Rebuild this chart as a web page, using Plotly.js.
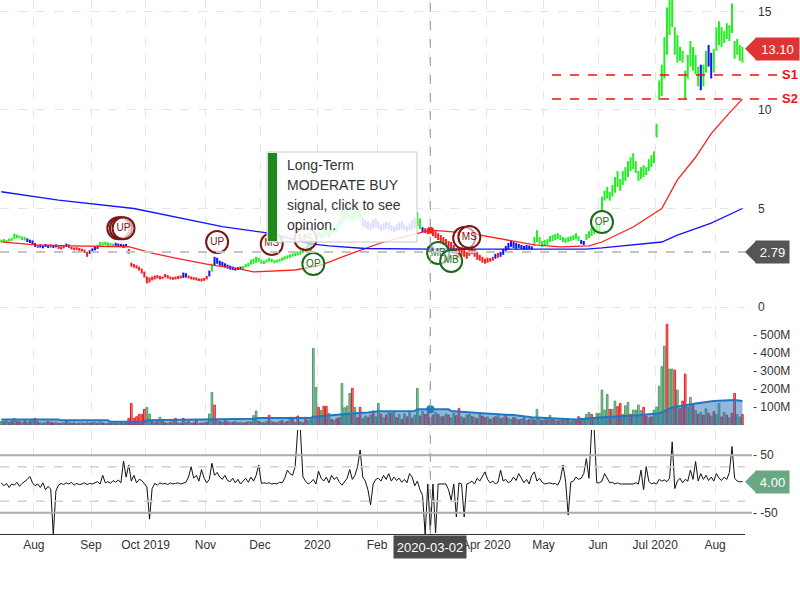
<!DOCTYPE html>
<html><head><meta charset="utf-8">
<script src="https://cdn.plot.ly/plotly-3.0.1.min.js"></script>
<style>html,body{margin:0;padding:0;background:#fff;}#chart{width:800px;height:600px;}</style>
</head><body><div id="chart"></div>
<script>
// ---------------- DATA ----------------
const startDate = '2019-07-15'; // first trading day shown (weekdays only)
const priceLow = [
3.28,3.30,3.25,3.32,3.35,3.45,3.50,3.48,3.40,3.38,
3.30,3.25,3.20,3.05,3.00,3.02,2.98,3.05,3.00,3.02,
3.00,3.03,2.95,2.92,2.98,3.05,3.00,2.92,2.88,2.90,
2.85,2.82,2.75,2.55,2.70,2.80,2.88,2.95,3.10,3.12,
3.15,3.10,3.12,3.08,3.10,3.05,3.08,3.00,3.05,2.70,
2.05,2.00,1.95,1.85,1.70,1.50,1.20,1.25,1.35,1.40,
1.45,1.40,1.42,1.50,1.45,1.40,1.38,1.40,1.42,1.45,
1.48,1.50,1.45,1.40,1.38,1.35,1.32,1.30,1.33,1.40,
1.55,1.80,2.10,2.20,2.10,2.05,2.00,1.95,1.90,1.88,
1.85,1.88,1.90,1.92,2.00,2.05,2.15,2.20,2.25,2.30,
2.20,2.18,2.25,2.30,2.28,2.22,2.25,2.30,2.35,2.40,
2.45,2.50,2.55,2.58,2.62,2.65,2.75,2.80,2.85,2.80,
3.20,3.40,3.50,3.45,3.55,3.60,3.55,3.65,3.70,3.80,
3.95,4.20,4.40,4.50,4.35,4.30,4.40,4.50,4.30,4.10,
4.00,3.95,3.90,4.00,4.05,3.95,3.85,3.90,4.00,3.95,
3.85,3.80,3.85,3.90,3.95,3.88,3.82,3.90,3.95,4.00,
4.10,3.95,3.80,3.75,3.70,3.75,3.60,3.50,3.40,3.25,
3.15,3.05,2.95,2.85,2.70,2.40,2.50,2.60,2.55,2.45,
2.60,2.70,2.55,2.40,2.35,2.25,2.20,2.25,2.30,2.35,
2.45,2.50,2.55,2.65,2.80,2.90,3.05,3.00,2.95,3.00,
2.95,2.90,2.92,2.95,2.90,3.10,3.30,3.20,3.05,3.10,
3.15,3.30,3.35,3.40,3.45,3.40,3.30,3.25,3.30,3.35,
3.40,3.45,3.35,3.20,3.15,3.40,3.50,3.60,3.70,3.80,
3.85,4.90,5.40,5.50,5.40,5.60,5.80,6.10,5.90,6.20,
6.40,6.60,6.90,7.00,6.80,6.40,6.50,6.60,6.70,6.90,
7.10,7.30,8.60,10.50,10.70,11.60,12.80,13.80,14.20,12.80,
12.40,12.50,12.40,10.50,11.60,12.20,12.00,11.80,11.20,11.00,
11.20,11.90,12.20,11.60,11.90,13.00,13.30,13.20,13.40,13.60,
13.50,13.90,12.60,12.80,12.50,12.40];
const priceHigh = [
3.42,3.45,3.40,3.48,3.50,3.72,3.68,3.62,3.58,3.55,
3.48,3.42,3.38,3.25,3.15,3.18,3.12,3.20,3.15,3.18,
3.14,3.18,3.10,3.08,3.12,3.22,3.18,3.06,3.02,3.04,
3.00,2.96,2.92,2.80,2.88,2.98,3.05,3.12,3.30,3.28,
3.32,3.28,3.25,3.22,3.26,3.22,3.20,3.18,3.20,2.95,
2.25,2.18,2.12,2.05,1.95,1.80,1.55,1.50,1.55,1.60,
1.62,1.58,1.55,1.68,1.62,1.55,1.52,1.55,1.58,1.60,
1.75,1.72,1.60,1.55,1.52,1.50,1.45,1.45,1.48,1.58,
1.85,2.20,2.55,2.50,2.35,2.30,2.22,2.15,2.10,2.05,
2.00,2.02,2.05,2.08,2.18,2.25,2.40,2.45,2.55,2.50,
2.40,2.35,2.42,2.50,2.45,2.38,2.40,2.45,2.52,2.58,
2.62,2.68,2.72,2.75,2.80,2.85,3.00,3.05,3.20,3.55,
3.60,3.75,3.85,3.80,3.95,4.05,3.90,4.00,4.10,4.25,
4.50,4.90,5.20,5.00,4.85,4.80,5.05,5.30,4.90,4.55,
4.40,4.35,4.30,4.45,4.50,4.35,4.20,4.25,4.35,4.30,
4.15,4.10,4.20,4.30,4.35,4.20,4.10,4.25,4.40,4.55,
4.80,4.50,4.05,4.00,3.98,4.05,3.92,3.85,3.75,3.65,
3.55,3.45,3.35,3.30,3.15,3.00,2.95,3.05,2.90,2.80,
2.95,3.10,2.95,2.80,2.65,2.55,2.45,2.50,2.48,2.55,
2.70,2.75,2.80,2.95,3.10,3.25,3.35,3.30,3.25,3.20,
3.15,3.10,3.15,3.12,3.08,3.55,3.90,3.55,3.35,3.40,
3.45,3.60,3.65,3.70,3.75,3.65,3.55,3.50,3.55,3.60,
3.65,3.75,3.60,3.40,3.35,3.70,3.85,4.00,4.10,4.25,
4.20,5.60,5.90,6.10,5.85,6.20,6.60,6.90,6.50,6.90,
7.10,7.40,7.60,7.80,7.40,6.90,7.10,7.20,7.10,7.50,
7.70,7.90,9.30,11.50,12.30,13.70,15.20,15.60,15.60,14.20,
13.80,13.20,13.00,12.00,12.80,13.50,13.20,12.80,12.20,12.30,
12.30,13.00,13.30,12.90,13.10,14.20,14.50,14.20,14.00,14.40,
14.30,15.40,13.50,13.60,13.30,13.20];
// g = green (up trend), b = blue (neutral), r = red (down trend)
const priceColor = ('gggggggggg bbbbrbbbbr bbrrrbrrrr rrrrbbbbgg ggggbbbbbr rrrrrrrrrr rrrrrrrrrr bbrrrrrrrr bgbbbbbbbb bbbggggggg ' +
  'gggggggggg gggggggggg gggggggggg gggggggggb bbbbbbbbbb bbbbbbbbbb ggbrrbrrrr rrrrrrrrrr rrrrrrrrrr brbbbbbbbb ' +
  'bbbbbggggg gggggggggg gggbbggggg gggggggggg gggggggggg gggggggggg gggggggggb ggbbgggggg gggggg').replace(/ /g, '');
const volumeM = [
20,18,25,15,22,37,20,18,12,22, 15,20,25,37,18,12,10,15,20,14,
12,15,10,8,12,20,15,10,12,8, 10,12,8,15,10,12,14,10,18,12,
8,10,12,15,10,8,12,10,14,37, 120,37,46,59,59,87,98,61,20,15,
18,43,31,12,10,15,20,37,12,10, 37,15,20,10,12,31,8,10,12,15,
61,181,111,25,20,15,30,18,12,15, 20,12,15,10,14,18,15,52,78,20,
15,12,20,54,18,15,12,20,25,14, 20,43,31,14,50,18,12,43,25,30,
425,209,98,81,104,104,65,30,25,35, 40,231,96,105,176,204,98,40,98,35,
50,42,55,78,45,120,60,40,55,70, 65,72,40,58,30,62,45,70,38,55,
204,50,75,58,65,40,55,70,60,45, 48,62,55,40,66,52,93,45,38,55,
60,48,42,35,58,50,40,45,30,38, 45,52,35,40,55,38,30,42,35,28,
32,40,25,30,36,28,87,30,25,35, 28,54,30,25,22,35,28,30,25,20,
30,25,46,37,30,59,70,59,40,65, 65,194,83,170,87,87,133,102,120,59,
107,126,59,83,83,111,80,98,50,40, 45,83,100,216,324,438,560,311,311,305,
194,90,133,283,100,153,117,80,60,70, 55,90,65,50,75,60,120,45,70,55,
40,65,176,58,45,59];
const volColor = ('grgrrgrrgr grgrrgrgrr rgrrgrgrrg rgrgrrgrgr grrgrgrgrr rrrrrrggrg rgrrgrgrgr rgrgrrgrgr ggrgrgrrgr grgrrgrggr ' +
  'grgrgrrgrg rgrgrgrrgg ggrgrrgrgr rggggrgrrg grgrggrgrg rgrgrgrgrg grgrrgrgrg rgrggrrgrg grgrgrrgrg rgrgrggrgr ' +
  'grgrgrggrg rgrgrgrgrg grrrgggrgg ggggrggrrg ggrggggrrg rgggggrggr grrrggrgrg rgrgrggrgr grrggr').replace(/ /g, '');
const oscillator = [
2,-3,1,-6,0,-2,3,-4,1,4, 8,13,2,-3,0,-6,2,-10,-4,-9,
-88,-12,-2,1,-1,2,0,3,-2,1, -1,0,2,-1,1,0,2,4,0,15,
2,4,1,6,3,7,2,40,12,33, 5,15,2,8,6,0,-5,-61,-8,1,
-2,2,0,1,-1,2,0,1,2,0, 1,3,12,30,10,15,5,25,10,2,
8,36,15,20,12,8,15,6,4,10, 2,8,0,5,10,3,12,5,15,33,
1,2,1,2,0,1,0,3,2,10, 24,18,15,30,95,95,12,5,0,3,
8,0,22,10,5,12,2,15,8,12, 3,-2,5,10,25,8,15,30,59,12,
5,-10,-36,0,8,10,5,15,8,18, 5,12,6,10,3,8,2,18,12,-3,
5,-10,-20,-88,0,-80,0,-85,0,0, 0,0,-10,-28,0,-57,2,0,-57,0,
2,5,0,10,5,12,21,8,2,5, 0,3,24,5,8,2,5,12,6,18,
10,2,8,0,15,21,5,10,3,0, 1,2,0,1,-2,8,33,5,-54,3,
5,12,8,10,18,44,10,95,95,2, 2,5,18,10,2,3,0,2,0,0,
0,1,0,0,2,0,24,-10,30,5, 0,2,0,8,5,7,4,10,73,-8,
5,10,2,8,5,24,8,39,5,18, 8,15,6,12,5,18,10,6,12,8,
20,65,10,5,4,4];
// moving averages, read at the listed trading-day indexes
const redMaIdx = [0,13,26,49,58,67,81,90,97,113,123,135,147,165,180,190,205,215,226,231,243,254,260,267,273,280,285];
const redMaVal = [3.31,3.15,3.10,3.06,2.74,2.48,2.13,1.98,1.78,1.88,2.13,2.74,3.30,3.90,3.75,3.50,3.15,3.05,3.10,3.30,4.06,5.00,6.45,7.60,8.80,9.85,10.55];
const blueMaIdx = [0,22,51,77,85,103,119,126,140,165,225,231,254,260,273,285];
const blueMaVal = [5.85,5.43,5.00,4.30,4.08,3.75,3.20,3.10,2.97,2.94,2.94,3.00,3.30,3.65,4.26,5.00];
const volMaIdx = [0,22,23,41,42,47,55,56,81,82,97,99,119,120,128,136,141,145,159,160,172,173,185,197,204,213,221,230,236,246,253,258,262,267,274,282,285];
const volMaVal = [31,31,26,26,18,18,20,26,31,35,35,39,39,46,57,65,70,76,78,87,87,78,65,55,43,37,31,41,46,55,65,98,107,120,133,139,133];
// signal badges
const sigIdx = [45,46,47,83,104,117,120,168,173,178,180,231];
const sigPrice = [4.0,4.0,4.0,3.3,3.2,3.45,2.18,2.74,2.34,3.5,3.55,4.31];
const sigText = ['UP','UP','UP','UP','MS','MS','OP','MB','MB','MS','MS','OP'];
// crosshair
const crossIdx = 165, crossDateLabel = '2020-03-02';
const crossRedMa = 3.90, crossBlueMa = 2.94, crossVolMa = 87;
const lastPrice = 13.10, refPrice = 2.79, lastOsc = 4.00;
const support1 = 11.78, support2 = 10.56;
// first trading day of each month (month starts that fall on weekends are moved to Monday)
const monthTicks = ['2019-08-01','2019-09-02','2019-10-01','2019-11-01','2019-12-02','2020-01-01','2020-02-03','2020-03-02','2020-04-01','2020-05-01','2020-06-01','2020-07-01','2020-08-03'];
// the March label sits under the crosshair date box, so it is left blank
const monthLabels = ['Aug','Sep','Oct 2019','Nov','Dec','2020','Feb','','Apr 2020','May','Jun','Jul 2020','Aug'];
const priceTicks = [0,5,10,15];
const volTicks = [100,200,300,400,500];
const volTickText = ['- 100M','- 200M','- 300M','- 400M','- 500M'];
const oscTicks = [-50,50];
const oscTickText = ['- -50','- 50'];
const tipLines = ['Long-Term','MODERATE BUY','signal, click to see','opinion.'];

// ---------------- BUILD ----------------
const N = priceLow.length;
const dates = (function(){
  const out = []; const d = new Date(startDate + 'T00:00:00Z');
  while (out.length < N) {
    const w = d.getUTCDay();
    if (w !== 0 && w !== 6) out.push(d.toISOString().slice(0,10) + ' 12:00');
    d.setUTCDate(d.getUTCDate() + 1);
  }
  return out;
})();
const FONT = '"Liberation Sans", Arial, sans-serif';

function priceSegs(code, color){
  const x=[], y=[];
  for (let i=0;i<N;i++) if (priceColor[i]===code){ x.push(dates[i],dates[i],null); y.push(priceLow[i],priceHigh[i],null); }
  return {type:'scatter',mode:'lines',x,y,xaxis:'x',yaxis:'y',line:{color,width:2},hoverinfo:'skip',connectgaps:false};
}
function volBars(code, fill, line){
  const x=[], y=[];
  for (let i=0;i<N;i++) if (volColor[i]===code){ x.push(dates[i]); y.push(volumeM[i]); }
  return {type:'bar',x,y,xaxis:'x',yaxis:'y2',width:0.62*86400000,marker:{color:fill,line:{color:line,width:1}},hoverinfo:'skip'};
}
const sigRed = sigText.map(t => t==='UP'||t==='MS');
// a badge stacked right behind the next identical badge only shows its ring
const sigVisibleText = sigText.map((t,j)=> (j+1<sigText.length && sigText[j+1]===t && sigIdx[j+1]-sigIdx[j]<=3) ? '' : t);
function sigTrace(red){
  const x=[],y=[],t=[];
  sigIdx.forEach((k,j)=>{ if (sigRed[j]===red){ x.push(dates[k]); y.push(sigPrice[j]); t.push(sigVisibleText[j]); } });
  const c = red ? '#7d1515' : '#1a6a1a';
  return {type:'scatter',mode:'markers+text',x,y,text:t,xaxis:'x',yaxis:'y',textposition:'middle center',
    textfont:{family:FONT,size:10,color:c},cliponaxis:false,
    marker:{symbol:'circle',size:22,color:'rgba(255,255,255,0.6)',line:{color:c,width:2}},hoverinfo:'skip'};
}

const traces = [
  priceSegs('r','#ff1a1a'), priceSegs('b','#1010ff'), priceSegs('g','#22ee22'),
  {type:'scatter',mode:'lines',x:redMaIdx.map(i=>dates[i]),y:redMaVal,xaxis:'x',yaxis:'y',line:{color:'#ff2020',width:1.3},hoverinfo:'skip'},
  {type:'scatter',mode:'lines',x:blueMaIdx.map(i=>dates[i]),y:blueMaVal,xaxis:'x',yaxis:'y',line:{color:'#1414ff',width:1.3},hoverinfo:'skip'},
  {type:'scatter',mode:'markers',x:[dates[crossIdx],dates[crossIdx]],y:[crossRedMa,crossBlueMa],xaxis:'x',yaxis:'y',
    marker:{size:7,color:['#ff2020','#1414ff']},hoverinfo:'skip'},
  sigTrace(true), sigTrace(false),
  volBars('g','rgba(120,190,145,0.8)','#4e9a68'), volBars('r','rgba(240,110,110,0.8)','#e82020'),
  {type:'scatter',mode:'lines',x:volMaIdx.map(i=>dates[i]),y:volMaVal,xaxis:'x',yaxis:'y2',fill:'tozeroy',
    fillcolor:'rgba(40,110,185,0.5)',line:{color:'#1f78c1',width:2},hoverinfo:'skip'},
  {type:'scatter',mode:'markers',x:[dates[crossIdx]],y:[crossVolMa],xaxis:'x',yaxis:'y2',marker:{size:8,color:'#1f78c1'},hoverinfo:'skip'},
  {type:'scatter',mode:'lines',x:dates,y:oscillator,xaxis:'x',yaxis:'y3',line:{color:'#111',width:1},hoverinfo:'skip'}
];

// panel geometry (pixels of the 534px tall plot area)
const PH = 534, PW = 745;
const py = p => 1 - p/PH, px = p => p/PW;

const shapes = [
  {type:'line',xref:'x',yref:'paper',x0:dates[crossIdx],x1:dates[crossIdx],y0:0,y1:1,line:{color:'#9a9a9a',width:1,dash:'dash'}},
  {type:'line',xref:'paper',yref:'y',x0:0,x1:1,y0:refPrice,y1:refPrice,line:{color:'#c4c4c4',width:2,dash:'dash'}},
  {type:'line',xref:'paper',yref:'y',x0:px(552),x1:px(777),y0:support1,y1:support1,line:{color:'#ee1111',width:1.5,dash:'dash'}},
  {type:'line',xref:'paper',yref:'y',x0:px(552),x1:px(777),y0:support2,y1:support2,line:{color:'#ee1111',width:1.5,dash:'dash'}},
  {type:'line',xref:'paper',yref:'y3',x0:0,x1:px(752),y0:50,y1:50,line:{color:'#ababab',width:2}},
  {type:'line',xref:'paper',yref:'y3',x0:0,x1:px(752),y0:-50,y1:-50,line:{color:'#ababab',width:2}},
  {type:'line',xref:'paper',yref:'y3',x0:0,x1:1,y0:30,y1:30,line:{color:'#d2d2d2',width:1.5,dash:'dash'}},
  {type:'line',xref:'paper',yref:'y3',x0:0,x1:1,y0:-30,y1:-30,line:{color:'#d2d2d2',width:1.5,dash:'dash'}},
  // tooltip box
  {type:'rect',layer:'above',xref:'paper',yref:'paper',x0:px(267),x1:px(417),y0:py(242),y1:py(152),fillcolor:'rgba(255,255,255,0.86)',line:{color:'#c8c8c8',width:1}},
  {type:'rect',layer:'above',xref:'paper',yref:'paper',x0:px(268),x1:px(277),y0:py(241),y1:py(153),fillcolor:'#1e8a1e',line:{width:0}},
];
// pointers of the right-hand value labels
[[lastPrice,'y','#e03434'],[refPrice,'y','#555555'],[lastOsc,'y3','#6aa884']].forEach(([v,ref,c])=>{
  shapes.push({type:'path',xref:'paper',yref:ref,xsizemode:'pixel',ysizemode:'pixel',xanchor:1,yanchor:v,
    path:'M0,0 L11,11 L11,-11 Z',fillcolor:c,line:{width:0}});
});

const annotations = [
  {xref:'paper',yref:'y',x:1,y:lastPrice,xanchor:'left',xshift:10,text:lastPrice.toFixed(2),showarrow:false,bgcolor:'#e03434',width:43,height:22,borderpad:0,font:{family:FONT,size:13,color:'#fff'}},
  {xref:'paper',yref:'y',x:1,y:refPrice,xanchor:'left',xshift:10,text:refPrice.toFixed(2),showarrow:false,bgcolor:'#555555',width:33,height:22,borderpad:0,font:{family:FONT,size:13,color:'#fff'}},
  {xref:'paper',yref:'y3',x:1,y:lastOsc,xanchor:'left',xshift:10,text:lastOsc.toFixed(2),showarrow:false,bgcolor:'#6aa884',width:33,height:22,borderpad:0,font:{family:FONT,size:13,color:'#fff'}},
  {xref:'paper',yref:'y',x:px(790),y:support1,xanchor:'center',text:'<b>S1</b>',showarrow:false,font:{family:FONT,size:13,color:'#ee1111'}},
  {xref:'paper',yref:'y',x:px(790),y:support2,xanchor:'center',text:'<b>S2</b>',showarrow:false,font:{family:FONT,size:13,color:'#ee1111'}},
  {xref:'x',yref:'paper',x:dates[crossIdx],y:0,yanchor:'top',yshift:-1,text:crossDateLabel,showarrow:false,bgcolor:'#4a4a4a',width:72,height:22,borderpad:0,font:{family:FONT,size:13,color:'#fff'}},
];
tipLines.forEach((t,k)=>{
  annotations.push({xref:'paper',yref:'paper',x:px(285),y:py(165+20*k),xanchor:'left',yanchor:'middle',text:t,showarrow:false,
    font:{family:FONT,size:14,color:'#333'}});
});

const tickFont = {family:FONT,size:12,color:'#333'};
const layout = {
  width:800,height:600,margin:{l:0,r:55,t:0,b:66},paper_bgcolor:'#fff',plot_bgcolor:'#fff',
  showlegend:false,hovermode:false,barmode:'overlay',font:{family:FONT},
  xaxis:{type:'date',range:[startDate,'2020-08-18 12:00'],rangebreaks:[{bounds:['sat','mon']}],anchor:'y3',
    tickvals:monthTicks,ticktext:monthLabels,ticks:'',tickfont:tickFont,showgrid:true,gridcolor:'#e6e6e6',griddash:'dash',
    showline:true,linecolor:'#333',linewidth:1,zeroline:false,fixedrange:true},
  yaxis:{domain:[py(310),1],range:[-0.15,15.58],side:'right',anchor:'x',tickvals:priceTicks,ticks:'',tickfont:tickFont,
    showgrid:true,gridcolor:'#e6e6e6',griddash:'dash',zeroline:false,ticklabelstandoff:12},
  yaxis2:{domain:[py(425),py(312)],range:[0,628],side:'right',anchor:'x',tickvals:volTicks,ticktext:volTickText,ticks:'',
    tickfont:tickFont,showgrid:false,zeroline:false,ticklabelstandoff:7},
  yaxis3:{domain:[0,py(430)],range:[-86.7,93.6],side:'right',anchor:'x',tickvals:oscTicks,ticktext:oscTickText,ticks:'',
    tickfont:tickFont,showgrid:false,zeroline:false,ticklabelstandoff:7},
  shapes, annotations
};
Plotly.newPlot('chart', traces, layout, {displayModeBar:false,staticPlot:true});
</script></body></html>
